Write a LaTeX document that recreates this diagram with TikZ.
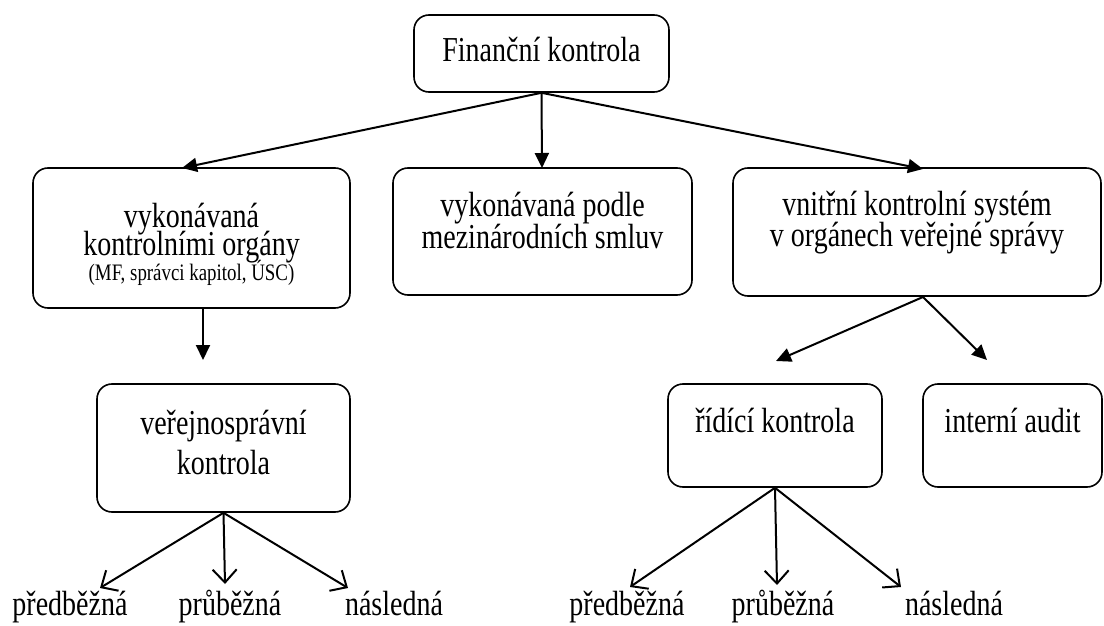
\documentclass[tikz,border=0pt]{standalone}
\usepackage{fontspec}
\setmainfont{Liberation Serif}[FakeStretch=0.8]
\usetikzlibrary{arrows.meta}
\setlength{\lineskiplimit}{-20pt}
\tikzset{
  boxnode/.style={draw,rounded corners=7.5pt,line width=0.8pt,inner sep=0pt,align=center,font=\fontsize{17.5}{16}\selectfont},
  leafnode/.style={inner sep=0pt,anchor=base,font=\fontsize{17.5}{16}\selectfont},
  fillarrow/.style={-{Triangle[length=7.5pt,width=7pt]},line width=1pt},
  openarrow/.style={-{Straight Barb[length=6.5pt,width=12pt]},line width=1pt}
}
\begin{document}
\begin{tikzpicture}[x=0.5pt,y=-0.5pt]
  \useasboundingbox (0,0) rectangle (1104,626);

  % boxes
  \node[boxnode,minimum width=127.5pt,text height=23.5pt,text depth=15pt] (fin) at (541.5,53.5) {Finanční kontrola};
  \node[boxnode,minimum width=158.5pt,text height=56pt,text depth=14pt,font=\fontsize{17.5}{14}\selectfont] (organy) at (191.5,238)
    {vykonávaná\\kontrolními orgány\\[-1.5pt]{\fontsize{11.8}{12}\selectfont (MF, správci kapitol, ÚSC)}};
  \node[boxnode,minimum width=149.5pt,text height=40.5pt,text depth=23pt] (smlouvy) at (542.5,231.5) {vykonávaná podle\\mezinárodních smluv};
  \node[boxnode,minimum width=184pt,text height=39.5pt,text depth=24.5pt] (vks) at (917,232) {vnitřní kontrolní systém\\v orgánech veřejné správy};
  \node[boxnode,minimum width=126.5pt,text height=45pt,text depth=19pt,font=\fontsize{17.5}{20}\selectfont] (verej) at (223.5,448) {veřejnosprávní\\kontrola};
  \node[boxnode,minimum width=107pt,text height=24pt,text depth=27.5pt] (ridici) at (775,435.5) {řídící kontrola};
  \node[boxnode,minimum width=89.5pt,text height=24pt,text depth=27.5pt] (audit) at (1012.5,435.5) {interní audit};

  % bottom labels
  \node[leafnode] (predL) at (70,615) {předběžná};
  \node[leafnode] (prubL) at (230,615) {průběžná};
  \node[leafnode] (naslL) at (394,615) {následná};
  \node[leafnode] (predR) at (627,615) {předběžná};
  \node[leafnode] (prubR) at (783,615) {průběžná};
  \node[leafnode] (naslR) at (954,615) {následná};

  % free arrow ends
  \coordinate (tOrg) at (182,168);
  \coordinate (tSml) at (542,168);
  \coordinate (tVks) at (923,169);
  \coordinate (oOrg) at (203,308);
  \coordinate (tVer) at (203,360);
  \coordinate (oVks) at (923,297);
  \coordinate (tRid) at (776,361);
  \coordinate (tAud) at (987,360);
  \coordinate (tPredL) at (100,588);
  \coordinate (tPrubL) at (225,584);
  \coordinate (tNaslL) at (348,588);
  \coordinate (tPredR) at (630,587);
  \coordinate (tPrubR) at (777,585);
  \coordinate (tNaslR) at (901,587);

  \draw[fillarrow] (fin.south) -- (tOrg);
  \draw[fillarrow] (fin.south) -- (tSml);
  \draw[fillarrow] (fin.south) -- (tVks);
  \draw[fillarrow] (oOrg) -- (tVer);
  \draw[fillarrow] (oVks) -- (tRid);
  \draw[fillarrow] (oVks) -- (tAud);

  \draw[openarrow] (verej.south) -- (tPredL);
  \draw[openarrow] (verej.south) -- (tPrubL);
  \draw[openarrow] (verej.south) -- (tNaslL);
  \draw[openarrow] (ridici.south) -- (tPredR);
  \draw[openarrow] (ridici.south) -- (tPrubR);
  \draw[openarrow] (ridici.south) -- (tNaslR);
\end{tikzpicture}
\end{document}
